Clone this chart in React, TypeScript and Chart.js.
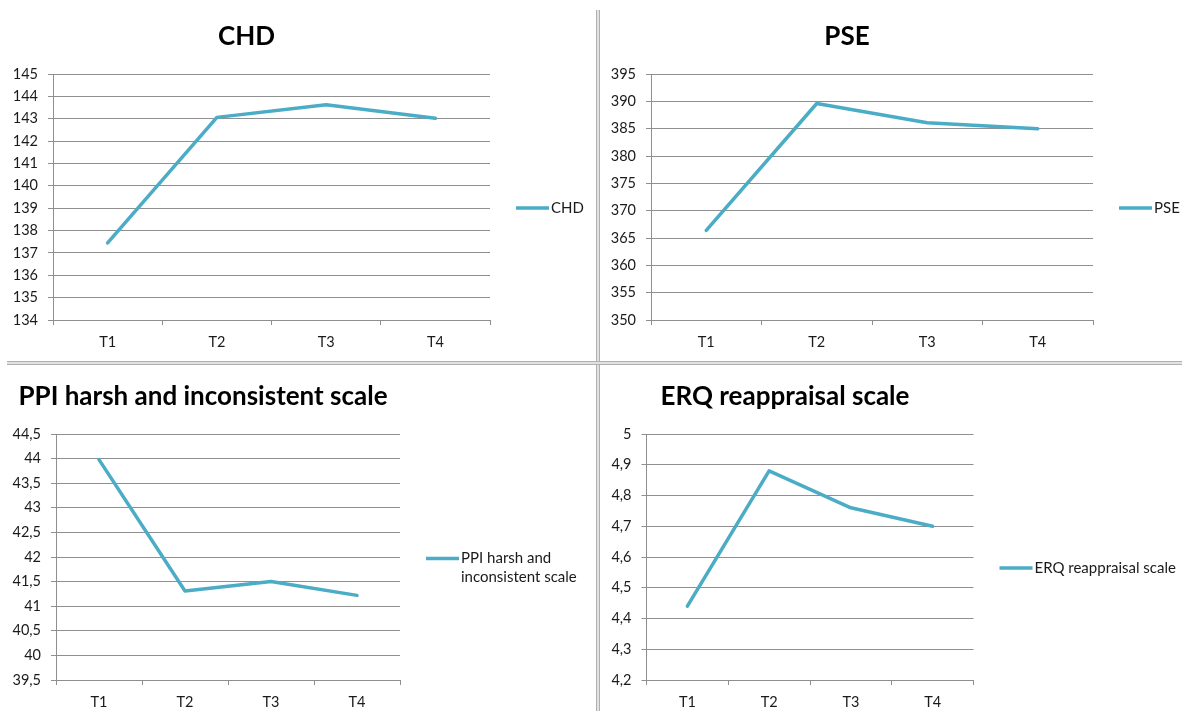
import React, { useEffect, useRef } from "react";
import { Chart, registerables } from "chart.js";

Chart.register(...registerables);

// ---- data ----
const categories = ["T1", "T2", "T3", "T4"];

const chdTitle = "CHD";
const chdValues = [137.45, 143.06, 143.62, 143.02];
const chdTicks = { min: 134, max: 145, step: 1 };

const pseTitle = "PSE";
const pseValues = [366.4, 389.6, 386.1, 385.0];
const pseTicks = { min: 350, max: 395, step: 5 };

const ppiTitle = "PPI harsh and inconsistent scale";
const ppiValues = [43.98, 41.31, 41.5, 41.22];
const ppiTicks = { min: 39.5, max: 44.5, step: 0.5 };

const erqTitle = "ERQ reappraisal scale";
const erqValues = [4.44, 4.88, 4.76, 4.7];
const erqTicks = { min: 4.2, max: 5, step: 0.1 };

// ---- styling ----
const FONT = "Lato, 'Open Sans', sans-serif";
const LINE_COLOR = "#4bacc6";
const GRID_COLOR = "#8f8f8f";
const TEXT_COLOR = "#1a1a1a";

function fmtComma(v: number) {
  const r = Math.round(v * 100) / 100;
  return String(r).replace(".", ",");
}

function wrapText(ctx: CanvasRenderingContext2D, text: string, maxWidth: number) {
  const words = text.split(" ");
  const lines: string[] = [];
  let cur = "";
  for (const w of words) {
    const test = cur ? cur + " " + w : w;
    if (ctx.measureText(test).width > maxWidth && cur) {
      lines.push(cur);
      cur = w;
    } else {
      cur = test;
    }
  }
  if (cur) lines.push(cur);
  return lines;
}

const sideLegend = {
  id: "sideLegend",
  afterDraw(chart: any, _args: any, opts: any) {
    const { ctx, chartArea } = chart;
    const ds = chart.data.datasets[0];
    ctx.save();
    ctx.font = `15px ${FONT}`;
    const lines = wrapText(ctx, ds.label, opts.maxWidth || 200);
    const lh = 19;
    const cy = (chartArea.top + chartArea.bottom) / 2 + 11;
    const y0 = cy - (lines.length * lh) / 2 + lh / 2;
    const x0 = chartArea.right + 26;
    ctx.strokeStyle = ds.borderColor;
    ctx.lineWidth = 3.5;
    ctx.lineCap = "butt";
    ctx.beginPath();
    ctx.moveTo(x0, y0);
    ctx.lineTo(x0 + 33, y0);
    ctx.stroke();
    ctx.fillStyle = TEXT_COLOR;
    ctx.textBaseline = "middle";
    ctx.textAlign = "left";
    lines.forEach((ln, i) => ctx.fillText(ln, x0 + 35, y0 + i * lh));
    ctx.restore();
  },
};

type PanelProps = {
  title: string;
  values: number[];
  ticks: { min: number; max: number; step: number };
  comma: boolean;
  width: number;
  height: number;
  padLeft: number;
  padRight: number;
  titleTop: number;
  titleBottom: number;
  xAxisHeight: number;
  legendMaxWidth: number;
};

function Panel(p: PanelProps) {
  const ref = useRef<HTMLCanvasElement>(null);
  useEffect(() => {
    if (!ref.current) return;
    const yAxisWidth = 50;
    const chart = new Chart(ref.current, {
      type: "line",
      data: {
        labels: categories,
        datasets: [
          {
            label: p.title,
            data: p.values,
            borderColor: LINE_COLOR,
            backgroundColor: LINE_COLOR,
            borderWidth: 3.5,
            pointRadius: 0,
            pointHoverRadius: 0,
            tension: 0,
            borderCapStyle: "round",
            borderJoinStyle: "round",
            fill: false,
          },
        ],
      },
      options: {
        animation: false,
        responsive: false,
        devicePixelRatio: 1,
        layout: {
          padding: { left: p.padLeft - yAxisWidth, right: p.padRight, top: 0, bottom: 0 },
        },
        plugins: {
          legend: { display: false },
          tooltip: { enabled: false },
          title: {
            display: true,
            text: p.title,
            color: "#000",
            font: { family: FONT, size: 26, weight: "bold", lineHeight: 1.2 },
            padding: { top: p.titleTop, bottom: p.titleBottom },
          },
          sideLegend: { maxWidth: p.legendMaxWidth },
        } as any,
        scales: {
          x: {
            type: "category",
            offset: true,
            afterFit: (s: any) => {
              s.height = p.xAxisHeight;
            },
            grid: {
              offset: true,
              drawOnChartArea: false,
              drawTicks: true,
              tickLength: 5,
              color: GRID_COLOR,
            },
            border: { display: true, color: GRID_COLOR, width: 1 },
            ticks: {
              color: TEXT_COLOR,
              font: { family: FONT, size: 14.5 },
              padding: 9,
              maxRotation: 0,
            },
          },
          y: {
            min: p.ticks.min,
            max: p.ticks.max,
            afterFit: (s: any) => {
              s.width = yAxisWidth;
            },
            grid: {
              drawOnChartArea: true,
              drawTicks: true,
              tickLength: 5,
              color: GRID_COLOR,
            },
            border: { display: true, color: GRID_COLOR, width: 1 },
            ticks: {
              stepSize: p.ticks.step,
              color: TEXT_COLOR,
              font: { family: FONT, size: 14.5 },
              padding: 10,
              callback: (v: any) => (p.comma ? fmtComma(Number(v)) : String(Math.round(Number(v) * 100) / 100)),
            },
          },
        },
      },
      plugins: [sideLegend],
    } as any);
    return () => chart.destroy();
  }, []);
  return <canvas ref={ref} width={p.width} height={p.height} style={{ display: "block" }} />;
}

const sepV: React.CSSProperties = {
  position: "absolute",
  left: 596,
  top: 10,
  width: 2,
  height: 701,
  background: "#e2e2e2",
  borderLeft: "1px solid #b0b0b0",
  borderRight: "1px solid #b0b0b0",
};
const sepH: React.CSSProperties = {
  position: "absolute",
  left: 7,
  top: 361,
  width: 1175,
  height: 2,
  background: "#e2e2e2",
  borderTop: "1px solid #b0b0b0",
  borderBottom: "1px solid #b0b0b0",
};

export default function App() {
  return (
    <div
      style={{
        position: "absolute",
        left: 0,
        top: 0,
        width: 1182,
        height: 711,
        overflow: "hidden",
        background: "#fff",
      }}
    >
      <div style={{ position: "absolute", left: 0, top: 0 }}>
        <Panel
          title={chdTitle}
          values={chdValues}
          ticks={chdTicks}
          comma={false}
          width={597}
          height={361}
          padLeft={53}
          padRight={107}
          titleTop={21.4}
          titleBottom={21.4}
          xAxisHeight={41}
          legendMaxWidth={200}
        />
      </div>
      <div style={{ position: "absolute", left: 597, top: 0 }}>
        <Panel
          title={pseTitle}
          values={pseValues}
          ticks={pseTicks}
          comma={false}
          width={600}
          height={361}
          padLeft={54}
          padRight={104}
          titleTop={21.4}
          titleBottom={21.4}
          xAxisHeight={41}
          legendMaxWidth={200}
        />
      </div>
      <div style={{ position: "absolute", left: 0, top: 365 }}>
        <Panel
          title={ppiTitle}
          values={ppiValues}
          ticks={ppiTicks}
          comma={true}
          width={597}
          height={346}
          padLeft={56}
          padRight={197}
          titleTop={16.4}
          titleBottom={21.4}
          xAxisHeight={31}
          legendMaxWidth={128}
        />
      </div>
      <div style={{ position: "absolute", left: 597, top: 365 }}>
        <Panel
          title={erqTitle}
          values={erqValues}
          ticks={erqTicks}
          comma={true}
          width={600}
          height={346}
          padLeft={49.5}
          padRight={223.5}
          titleTop={16.4}
          titleBottom={21.4}
          xAxisHeight={31}
          legendMaxWidth={200}
        />
      </div>
      <div style={sepV} />
      <div style={sepH} />
    </div>
  );
}
